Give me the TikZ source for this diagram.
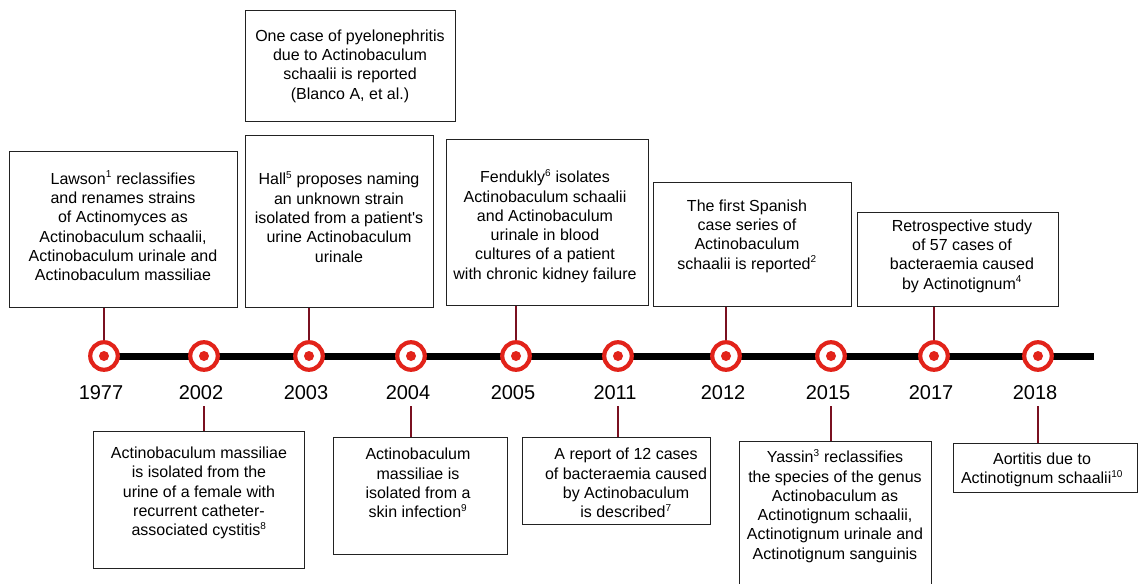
\documentclass[tikz,border=0pt]{standalone}
\usepackage{fontspec}
\setmainfont{Liberation Sans}
\definecolor{mkred}{HTML}{E2231A}
\definecolor{cnred}{HTML}{7A1020}
\definecolor{boxln}{HTML}{222222}
\newcommand{\sups}[1]{\textsuperscript{\fontsize{10}{10}\selectfont #1}}
\begin{document}
\begin{tikzpicture}[x=1pt,y=-1pt,
  evbox/.style={draw=boxln,line width=1.3pt,fill=white,anchor=north west,inner sep=0pt},
  evtxt/.style={align=center,inner sep=0pt,font=\fontsize{16}{19.3}\selectfont},
  marker/.style={circle,draw=mkred,line width=4.2pt,fill=white,minimum size=27.5pt,inner sep=0pt},
  dot/.style={circle,fill=mkred,minimum size=10pt,inner sep=0pt},
  yr/.style={anchor=base,inner sep=7pt,font=\fontsize{20}{24}\selectfont},
  conn/.style={draw=cnred,line width=1.5pt},
  axis/.style={line width=7pt,black}]
\useasboundingbox[fill=white] (0,0) rectangle (1144,584);

% timeline
\coordinate (tl0) at (104,356);
\coordinate (tl1) at (1094,356);
\draw[axis] (tl0) -- (tl1);

% markers
\foreach \n/\x/\yl in {1/104/1977,2/204/2002,3/309/2003,4/411/2004,5/516/2005,6/618/2011,7/726/2012,8/831/2015,9/934/2017,10/1038/2018}{
  \node[marker] (m\n) at (\x,356) {};
  \node[dot] (d\n) at (m\n.center) {};
  \node[yr] (y\n) at (\x-3,399) {\yl};
}

% top boxes
\node[evbox,minimum width=228pt,minimum height=156pt] (b1) at (9,151) {};
\node[evtxt] (t1) at (123,226) {Lawson\sups{1} reclassifies\\and renames strains\\of Actinomyces as\\Actinobaculum schaalii,\\Actinobaculum urinale and\\Actinobaculum massiliae};

\node[evbox,minimum width=210pt,minimum height=111pt] (b2) at (245,10) {};
\node[evtxt] (t2) at (350,66) {One case of pyelonephritis\\due to Actinobaculum\\schaalii is reported\\(Blanco A, et al.)};

\node[evbox,minimum width=188pt,minimum height=172pt] (b3) at (245,135) {};
\node[evtxt] (t3) at (339,217) {Hall\sups{5} proposes naming\\an unknown strain\\isolated from a patient\textquotesingle s\\urine Actinobaculum\\urinale};

\node[evbox,minimum width=202pt,minimum height=166pt] (b4) at (446,139) {};
\node[evtxt] (t4) at (545,226) {Fendukly\sups{6} isolates\\Actinobaculum schaalii\\and Actinobaculum\\urinale in blood\\cultures of a patient\\with chronic kidney failure};

\node[evbox,minimum width=198pt,minimum height=124pt] (b5) at (653,182) {};
\node[evtxt] (t5) at (747,236) {The first Spanish\\case series of\\Actinobaculum\\schaalii is reported\sups{2}};

\node[evbox,minimum width=201pt,minimum height=94pt] (b6) at (857,212) {};
\node[evtxt] (t6) at (962,256) {Retrospective study\\of 57 cases of\\bacteraemia caused\\by Actinotignum\sups{4}};

% bottom boxes
\node[evbox,minimum width=211pt,minimum height=137pt] (b7) at (93,431) {};
\node[evtxt] (t7) at (199,493) {Actinobaculum massiliae\\is isolated from the\\urine of a female with\\recurrent catheter-\\associated cystitis\sups{8}};

\node[evbox,minimum width=174pt,minimum height=117pt] (b8) at (333,437) {};
\node[evtxt] (t8) at (418,483) {Actinobaculum\\massiliae is\\isolated from a\\skin infection\sups{9}};

\node[evbox,minimum width=188pt,minimum height=87pt] (b9) at (522,437) {};
\node[evtxt] (t9) at (626,483) {A report of 12 cases\\of bacteraemia caused\\by Actinobaculum\\is described\sups{7}};

\node[evbox,minimum width=192pt,minimum height=170pt] (b10) at (739,441) {};
\node[evtxt] (t10) at (835,506) {Yassin\sups{3} reclassifies\\the species of the genus\\Actinobaculum as\\Actinotignum schaalii,\\Actinotignum urinale and\\Actinotignum sanguinis};

\node[evbox,minimum width=184pt,minimum height=49pt] (b11) at (953,443) {};
\node[evtxt] (t11) at (1042,470) {Aortitis due to\\Actinotignum schaalii\sups{10}};

% connectors (top)
\draw[conn] (m1.north) -- (m1.north |- b1.south);
\draw[conn] (m3.north) -- (m3.north |- b3.south);
\draw[conn] (m5.north) -- (m5.north |- b4.south);
\draw[conn] (m7.north) -- (m7.north |- b5.south);
\draw[conn] (m9.north) -- (m9.north |- b6.south);
% connectors (bottom)
\draw[conn] (m2 |- y2.south) -- (m2 |- b7.north);
\draw[conn] (m4 |- y4.south) -- (m4 |- b8.north);
\draw[conn] (m6 |- y6.south) -- (m6 |- b9.north);
\draw[conn] (m8 |- y8.south) -- (m8 |- b10.north);
\draw[conn] (m10 |- y10.south) -- (m10 |- b11.north);
\end{tikzpicture}
\end{document}
